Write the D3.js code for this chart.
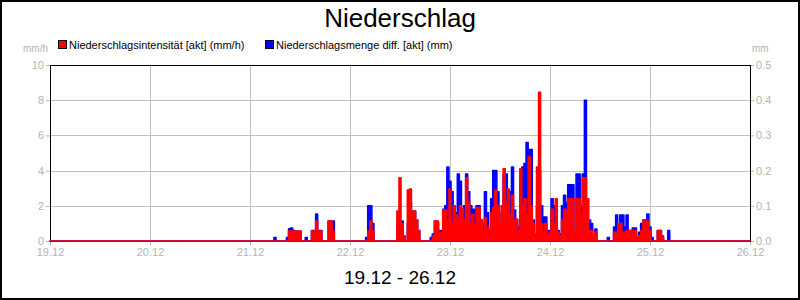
<!DOCTYPE html>
<html>
<head>
<meta charset="utf-8">
<script src="https://cdn.jsdelivr.net/npm/d3@7"></script>
<style>
  body { margin: 0; background: #fff; }
  svg { display: block; font-family: Arial, "Liberation Sans", sans-serif; }
</style>
</head>
<body>
<svg id="chart" width="800" height="300"></svg>
<script>
const title = 'Niederschlag';
const subtitle = '19.12 - 26.12';
const seriesNames = ['Niederschlagsintensität [akt] (mm/h)', 'Niederschlagsmenge diff. [akt] (mm)'];
const seriesColours = ['#ff0000', '#0000ff'];
const leftUnit = 'mm/h';
const rightUnit = 'mm';

const rangeStart = new Date(2023, 11, 19);
const rangeEnd = new Date(2023, 11, 26);
const dataStart = new Date(2023, 11, 21, 6, 0);
const stepMinutes = 30;

const leftTicks = [0, 2, 4, 6, 8, 10];
const rightTicks = [0, 0.1, 0.2, 0.3, 0.4, 0.5];

// mm/h, one value every 30 min from 21.12 06:00
const intensity = [
  0, 0, 0, 0, 0, 0, 0, 0.57, 0.57, 0.57, 0.57, 0.57, 0.57, 0, 0, 0, 0, 0,
  0.57, 0.57, 1.14, 0.57, 0.57, 0, 0, 0, 1.14, 1.14, 0.57,
  0, 0, 0, 0, 0, 0, 0, 0, 0, 0, 0, 0, 0, 0, 0, 0,
  0.57, 1.14, 0.57, 0, 0, 0, 0, 0, 0, 0, 0, 0, 0, 0,
  1.7, 3.6, 1.0, 0.3, 0, 2.9, 2.95, 1.7, 1.7, 1.2, 0.6, 0, 0, 0, 0, 0, 0,
  0.3, 1.14, 1.14, 0.5, 0.5, 1.76, 1.76, 1.2, 2.95, 1.0, 2.0, 1.5, 1.3, 2.0, 1.8,
  1.2, 3.6, 2.2, 1.0, 1.5, 0.9, 1.9, 1.9, 1.2, 0.5, 1.3, 0.8, 0.3, 1.6, 1.9,
  2.9, 2.0, 1.0, 2.0, 4.1, 2.2, 2.95, 1.5, 2.6, 1.2, 1.25, 0.6, 4.1, 2.0, 2.4, 1.5, 4.8,
  2.0, 1.0, 0.4, 4.2, 8.45, 1.0, 0.5, 1.0, 0.3, 0.5, 1.8, 1.0, 2.4, 0.5, 0.3, 1.2, 1.8,
  1.76, 2.4, 2.4, 2.4, 0.6, 2.4, 2.4, 1.5, 3.6, 3.6, 2.4, 0.6, 0.6, 0.3, 0.5,
  0, 0, 0, 0, 0, 0, 0, 0,
  0.5, 0.5, 1.0, 1.0, 0.5, 0.5, 0.6, 0.6, 0.6, 0.6, 0.6, 0, 0.3, 0.6, 1.14, 1.14, 1.14, 0.6,
  0, 0, 0, 0.6, 0.6, 0.3, 0, 0, 0, 0, 0
];

// mm, same timestamps
const amount = [
  0.01, 0, 0, 0, 0, 0, 0.01, 0.035, 0.037, 0.03, 0.028, 0.028, 0.028, 0, 0, 0.01, 0, 0,
  0.03, 0.03, 0.077, 0.03, 0.03, 0, 0, 0, 0.057, 0.057, 0.057,
  0, 0, 0, 0, 0, 0, 0, 0, 0, 0, 0, 0, 0, 0, 0, 0.01,
  0.1, 0.1, 0.05, 0, 0, 0, 0, 0, 0, 0, 0, 0, 0, 0,
  0.05, 0.03, 0.057, 0.01, 0, 0.05, 0.11, 0.06, 0.085, 0.06, 0.03, 0, 0, 0, 0, 0, 0.01,
  0.02, 0.057, 0.05, 0.03, 0.03, 0.09, 0.1, 0.21, 0.17, 0.14, 0.1, 0.08, 0.19, 0.17, 0.09,
  0.1, 0.19, 0.14, 0.1, 0.09, 0.09, 0.1, 0.1, 0.06, 0.05, 0.14, 0.08, 0.03, 0.12, 0.2,
  0.2, 0.14, 0.05, 0.08, 0.19, 0.19, 0.1, 0.14, 0.21, 0.088, 0.06, 0.04, 0.15, 0.21, 0.22, 0.28, 0.26,
  0.26, 0.06, 0.02, 0.1, 0.2, 0.1, 0.068, 0.068, 0.03, 0.03, 0.12, 0.1, 0.088, 0.03, 0.02, 0.1, 0.13,
  0.11, 0.16, 0.16, 0.16, 0.03, 0.19, 0.19, 0.1, 0.19, 0.4, 0.12, 0.06, 0.05, 0.01, 0.034,
  0, 0, 0, 0, 0, 0.01, 0, 0,
  0.04, 0.074, 0.04, 0.074, 0.074, 0.04, 0.074, 0.03, 0.03, 0.037, 0.037, 0.01, 0.025, 0.05, 0.06, 0.06, 0.077, 0.04,
  0.01, 0, 0, 0.03, 0.03, 0.01, 0, 0, 0.03, 0, 0
];

const svg = d3.select('#chart');
const width = 800, height = 300;
const margin = { top: 65, right: 50, bottom: 59, left: 50 };
const plotW = width - margin.left - margin.right;
const plotH = height - margin.top - margin.bottom;
const grey = '#b4b4b4';
const gridGrey = '#c0c0c0';

const x = d3.scaleTime().domain([rangeStart, rangeEnd]).range([margin.left, margin.left + plotW]);
const yLeft = d3.scaleLinear().domain([0, 10]).range([margin.top + plotH, margin.top]);
const yRight = d3.scaleLinear().domain([0, 0.5]).range([margin.top + plotH, margin.top]);

function toPoints(values) {
  const step = stepMinutes * 60000;
  const pts = [{ t: rangeStart, v: 0 }, { t: new Date(+dataStart - step), v: 0 }];
  values.forEach((v, i) => pts.push({ t: new Date(+dataStart + i * step), v: v }));
  pts.push({ t: new Date(+dataStart + values.length * step), v: 0 });
  pts.push({ t: rangeEnd, v: 0 });
  return pts;
}

// outer frame
svg.append('rect')
  .attr('x', 1).attr('y', 1)
  .attr('width', width - 2).attr('height', height - 2)
  .attr('fill', '#fff').attr('stroke', '#000').attr('stroke-width', 2);

// title + subtitle
svg.append('text')
  .attr('x', 400).attr('y', 27)
  .attr('text-anchor', 'middle')
  .attr('font-size', 26)
  .text(title);

svg.append('text')
  .attr('x', 400).attr('y', 284)
  .attr('text-anchor', 'middle')
  .attr('font-size', 19)
  .text(subtitle);

// legend
const legendX = [58, 265];
seriesNames.forEach((name, i) => {
  svg.append('rect')
    .attr('x', legendX[i] + 0.5).attr('y', 40.5)
    .attr('width', 8).attr('height', 8)
    .attr('fill', seriesColours[i]).attr('stroke', '#000');
  svg.append('text')
    .attr('x', legendX[i] + 11).attr('y', 48.5)
    .attr('font-size', 11)
    .text(name);
});

// grid
const dayTicks = d3.timeDay.range(rangeStart, d3.timeDay.offset(rangeEnd, 1));
svg.append('g')
  .selectAll('line')
  .data(dayTicks.slice(1, -1))
  .join('line')
  .attr('x1', d => Math.round(x(d)) + 0.5).attr('x2', d => Math.round(x(d)) + 0.5)
  .attr('y1', margin.top).attr('y2', margin.top + plotH)
  .attr('stroke', gridGrey);

svg.append('g')
  .selectAll('line')
  .data(leftTicks.slice(1, -1))
  .join('line')
  .attr('x1', margin.left).attr('x2', margin.left + plotW)
  .attr('y1', d => Math.round(yLeft(d)) + 0.5).attr('y2', d => Math.round(yLeft(d)) + 0.5)
  .attr('stroke', gridGrey);

// axes
const axisFont = g => {
  g.select('.domain').remove();
  g.selectAll('.tick line').attr('stroke', grey);
  g.selectAll('.tick text').attr('fill', grey).attr('font-size', 11).attr('font-family', 'Arial, "Liberation Sans", sans-serif');
};

svg.append('g')
  .attr('transform', `translate(${margin.left},0)`)
  .call(d3.axisLeft(yLeft).tickValues(leftTicks).tickSize(4).tickPadding(2).tickFormat(d3.format('d')))
  .call(axisFont);

svg.append('g')
  .attr('transform', `translate(${margin.left + plotW},0)`)
  .call(d3.axisRight(yRight).tickValues(rightTicks).tickSize(4).tickPadding(2).tickFormat(d3.format('.1f')))
  .call(axisFont);

svg.append('g')
  .attr('transform', `translate(0,${margin.top + plotH})`)
  .call(d3.axisBottom(x).tickValues(dayTicks).tickSize(4).tickPadding(3).tickFormat(d3.timeFormat('%d.%m')))
  .call(axisFont);

svg.append('text')
  .attr('x', 48).attr('y', 52)
  .attr('text-anchor', 'end')
  .attr('font-size', 10)
  .attr('fill', grey)
  .text(leftUnit);

svg.append('text')
  .attr('x', 752).attr('y', 52)
  .attr('font-size', 10)
  .attr('fill', grey)
  .text(rightUnit);

// plot frame
svg.append('rect')
  .attr('x', margin.left + 0.5).attr('y', margin.top + 0.5)
  .attr('width', plotW).attr('height', plotH)
  .attr('fill', 'none').attr('stroke', '#000');

// series: amount (blue, right axis) behind intensity (red, left axis)
const drawSeries = (values, yScale, colour) => {
  const area = d3.area()
    .curve(d3.curveStep)
    .x(d => x(d.t))
    .y0(yScale(0))
    .y1(d => yScale(d.v));
  svg.append('path')
    .datum(toPoints(values))
    .attr('d', area)
    .attr('fill', colour)
    .attr('stroke', colour)
    .attr('stroke-width', 1.5)
    .attr('stroke-linejoin', 'round');
};

drawSeries(amount, yRight, seriesColours[1]);
drawSeries(intensity, yLeft, seriesColours[0]);
</script>
</body>
</html>
